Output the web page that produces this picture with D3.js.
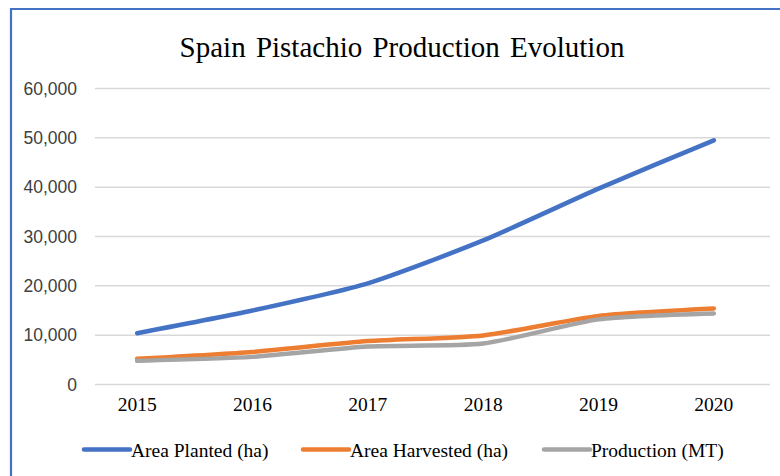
<!DOCTYPE html>
<html>
<head>
<meta charset="utf-8">
<script src="https://cdn.jsdelivr.net/npm/d3@7"></script>
<style>
  html, body { margin: 0; padding: 0; background: #fff; }
  svg { display: block; }
</style>
</head>
<body>
<svg id="chart" width="780" height="476"></svg>
<script>
const title = "Spain Pistachio Production Evolution";
const years = ["2015", "2016", "2017", "2018", "2019", "2020"];
const areaPlanted = [10400, 15000, 20500, 29200, 39700, 49500];
const areaHarvested = [5200, 6600, 8800, 9950, 13900, 15400];
const production = [4800, 5600, 7700, 8300, 13200, 14400];
const yTicks = [0, 10000, 20000, 30000, 40000, 50000, 60000];
const seriesNames = ["Area Planted (ha)", "Area Harvested (ha)", "Production (MT)"];
const seriesColors = ["#4472C4", "#ED7D31", "#A5A5A5"];

const series = [
  { name: seriesNames[0], values: areaPlanted, color: seriesColors[0] },
  { name: seriesNames[1], values: areaHarvested, color: seriesColors[1] },
  { name: seriesNames[2], values: production, color: seriesColors[2] }
];

const svg = d3.select("#chart");
const serif = "'Liberation Serif', 'Times New Roman', serif";
const sans = "'Liberation Sans', Arial, sans-serif";

svg.append("rect").attr("width", 780).attr("height", 476).attr("fill", "#fff");

// border (left and top only visible)
svg.append("path")
  .attr("d", "M11,476 V9 H780")
  .attr("fill", "none")
  .attr("stroke", "#4472C4")
  .attr("stroke-width", 2.2);

// title
svg.append("text")
  .attr("x", 402).attr("y", 57)
  .attr("text-anchor", "middle")
  .attr("font-family", serif)
  .attr("font-size", 29)
  .attr("word-spacing", 3)
  .attr("fill", "#000")
  .text(title);

const x = d3.scaleBand().domain(years).range([79.5, 771.5]);
const y = d3.scaleLinear().domain([0, 60000]).range([384.5, 88.5]);

const gridLeft = 95, gridRight = 770;

// gridlines
svg.append("g")
  .selectAll("line")
  .data(yTicks)
  .join("line")
  .attr("x1", gridLeft).attr("x2", gridRight)
  .attr("y1", d => y(d)).attr("y2", d => y(d))
  .attr("stroke", "#d9d9d9")
  .attr("stroke-width", 1.5);

// y axis labels
const yAxis = d3.axisLeft(y).tickValues(yTicks).tickSize(0).tickPadding(0)
  .tickFormat(d3.format(","));
const gy = svg.append("g").attr("transform", "translate(77,0)").call(yAxis);
gy.select(".domain").remove();
gy.selectAll("text")
  .attr("font-family", sans)
  .attr("font-size", 17.5)
  .attr("fill", "#404040");

// x axis labels
const xAxis = d3.axisBottom(x).tickSize(0).tickPadding(0);
const gx = svg.append("g").attr("transform", "translate(0,397)").call(xAxis);
gx.select(".domain").remove();
gx.selectAll("text")
  .attr("font-family", serif)
  .attr("font-size", 19.5)
  .attr("fill", "#000");

// lines
const line = d3.line()
  .x((d, i) => x(years[i]) + x.bandwidth() / 2)
  .y(d => y(d))
  .curve(d3.curveCardinal.tension(0.35));

svg.append("g")
  .selectAll("path")
  .data(series)
  .join("path")
  .attr("d", d => line(d.values))
  .attr("fill", "none")
  .attr("stroke", d => d.color)
  .attr("stroke-width", 4.5)
  .attr("stroke-linecap", "round")
  .attr("stroke-linejoin", "round");

// legend
const legendX = [84, 303, 544];
const lg = svg.append("g");
series.forEach((s, i) => {
  const g = lg.append("g").attr("transform", `translate(${legendX[i]},449.5)`);
  g.append("line")
    .attr("x1", 0).attr("x2", 46)
    .attr("y1", 0).attr("y2", 0)
    .attr("stroke", s.color)
    .attr("stroke-width", 4.5)
    .attr("stroke-linecap", "round");
  g.append("text")
    .attr("x", 47).attr("y", 7)
    .attr("font-family", serif)
    .attr("font-size", 19.5)
    .attr("fill", "#000")
    .text(s.name);
});
</script>
</body>
</html>
